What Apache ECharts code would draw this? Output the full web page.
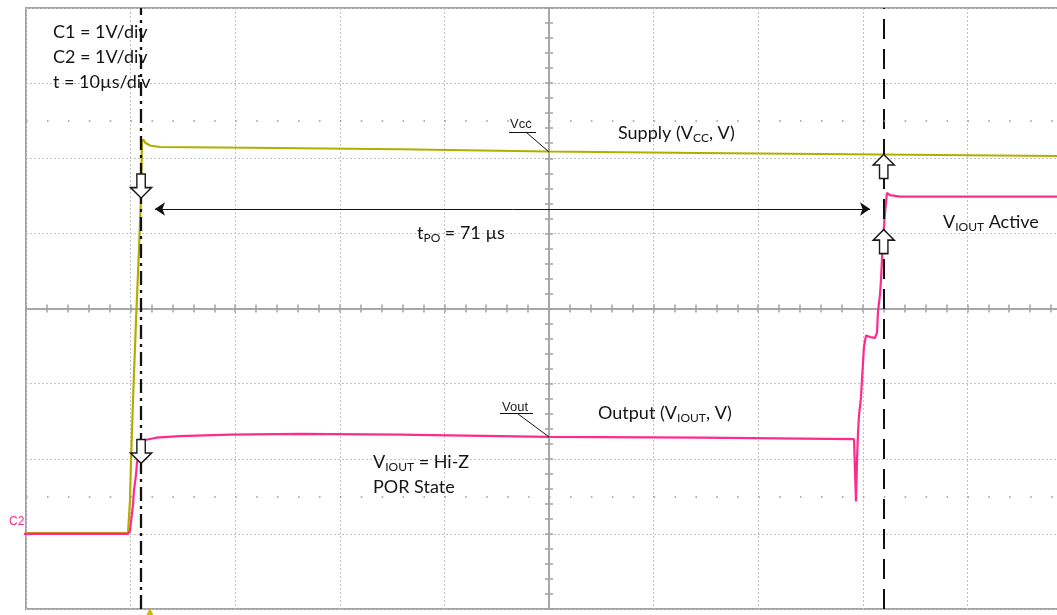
<!DOCTYPE html>
<html><head><meta charset="utf-8">
<script src="https://cdn.jsdelivr.net/npm/echarts@6/dist/echarts.min.js"></script>
<style>html,body{margin:0;padding:0;background:#fff}#c{width:1057px;height:615px}</style>
</head><body><div id="c"></div>
<script>
// Time in µs from the left edge of the screen (10 µs/div), voltage in V above channel ground (1 V/div)
const vccTime = [0, 9.75, 9.94, 10.04, 10.23, 10.52, 10.80, 10.99, 11.09, 11.19, 11.38, 11.85, 12.81, 21.4, 35.76, 50.0, 64.4, 81.6, 98.57];
const vccVolt = [0.01, 0.01, 0.44, 0.97, 1.78, 2.85, 3.78, 4.45, 5.22, 5.25, 5.21, 5.17, 5.15, 5.14, 5.12, 5.09, 5.07, 5.05, 5.03];

const voutTime = [-1.34, 9.75, 9.94, 10.04, 10.23, 10.33, 10.52, 10.61, 10.80, 11.09, 11.38, 12.43, 14.72, 19.50, 26.2, 35.76, 50.0, 64.4, 79.16, 79.25, 79.35, 79.45, 79.54, 79.64, 79.83, 79.92, 80.02, 80.11, 80.31, 80.69, 81.17, 81.36, 81.45, 81.64, 81.74, 81.93, 82.12, 82.31, 82.6, 83.56, 93.1, 98.57];
const voutVolt = [0.00, 0.00, 0.04, 0.16, 0.39, 0.59, 0.79, 0.95, 1.05, 1.21, 1.25, 1.28, 1.30, 1.32, 1.33, 1.32, 1.29, 1.28, 1.26, 0.85, 0.43, 0.99, 1.34, 1.58, 1.82, 2.05, 2.28, 2.49, 2.64, 2.62, 2.61, 2.68, 2.96, 3.18, 3.38, 3.91, 4.27, 4.54, 4.51, 4.49, 4.49, 4.49];

const porTime = 11.0;     // dash-dot cursor
const activeTime = 82.0;  // dashed cursor (tPO = 71 µs)
const triggerTime = 11.85;

const vccData = vccTime.map((t, i) => [t, vccVolt[i]]);
const voutData = voutTime.map((t, i) => [t, voutVolt[i]]);

const GRAY = '#a3a3a3';
const DOWN = 'path://M6,0 L14,0 L14,13 L20,13 L10,23 L0,13 L6,13 Z';
const UP = 'path://M10,0 L20,10 L14,10 L14,23 L6,23 L6,10 L0,10 Z';
const FONT = 'Lato';

function crossX(pos) {
  return { type: 'value', min: -50, max: 50, interval: 2, position: pos,
    axisLine: { show: true, onZero: true, onZeroAxisIndex: 1, lineStyle: { color: GRAY, width: 1.5 } },
    axisTick: { show: true, length: 4, lineStyle: { color: GRAY, width: 1.5 } },
    axisLabel: { show: false }, splitLine: { show: false } };
}
function crossY(pos) {
  return { type: 'value', min: -4, max: 4, interval: 0.2, position: pos,
    axisLine: { show: true, onZero: true, onZeroAxisIndex: 1, lineStyle: { color: GRAY, width: 1.5 } },
    axisTick: { show: true, length: 4, lineStyle: { color: GRAY, width: 1.5 } },
    axisLabel: { show: false }, splitLine: { show: false } };
}
function txt(x, y, text, rich) {
  const style = { text: text, x: 0, y: 0, fill: '#151515', fontFamily: FONT, fontSize: 18, verticalAlign: 'middle', align: 'left' };
  if (rich) style.rich = rich;
  return { type: 'text', x: x, y: y, z: 100, style: style };
}
const subRich = {
  a: { fontFamily: FONT, fontSize: 18, lineHeight: 22, fill: '#151515' },
  s: { fontFamily: FONT, fontSize: 12, lineHeight: 12, verticalAlign: 'bottom', fill: '#151515' }
};

const chart = echarts.init(document.getElementById('c'), null, { renderer: 'canvas' });
chart.setOption({
  animation: false,
  backgroundColor: '#fff',
  grid: { left: 26, right: -15, top: 8, bottom: 6, show: true, borderColor: GRAY, borderWidth: 2, outerBoundsMode: 'none' },
  xAxis: [
    { type: 'value', min: 0, max: 100, interval: 10,
      axisLine: { show: false }, axisTick: { show: false }, axisLabel: { show: false },
      splitLine: { show: true, lineStyle: { color: '#c2c2c2', width: 1, type: [2, 2] } } },
    crossX('bottom'), crossX('top')
  ],
  yAxis: [
    { type: 'value', min: -1, max: 7, interval: 1,
      axisLine: { show: false }, axisTick: { show: false }, axisLabel: { show: false },
      splitLine: { show: true, lineStyle: { color: '#c2c2c2', width: 1, type: [2, 2] } } },
    crossY('left'), crossY('right')
  ],
  series: [
    { name: 'Vcc', type: 'line', data: vccData, showSymbol: false, clip: false, z: 3,
      lineStyle: { color: '#b3ad00', width: 2.2 }, itemStyle: { color: '#b3ad00' } },
    { name: 'Vout', type: 'line', data: voutData, showSymbol: false, clip: false, z: 4,
      lineStyle: { color: '#ff2a8e', width: 2.2 }, itemStyle: { color: '#ff2a8e' } },
    { name: 'annot', type: 'line', data: [], z: 6, silent: true,
      markLine: {
        silent: true, symbol: 'none', label: { show: false }, animation: false,
        data: [
          { xAxis: porTime, lineStyle: { color: '#111', width: 2.3, type: [14, 5, 3, 5] } },
          { xAxis: activeTime, lineStyle: { color: '#111', width: 2, type: [20, 10] } },
          [ { coord: [0, 5.5], lineStyle: { color: '#9a9a9a', width: 1.6, type: [1.6, 19.32] } }, { coord: [100, 5.5] } ],
          [ { coord: [0, 0.5], lineStyle: { color: '#9a9a9a', width: 1.6, type: [1.6, 19.32] } }, { coord: [100, 0.5] } ],
          [ { coord: [12.33, 4.325], symbol: 'arrow', symbolSize: 10, lineStyle: { color: '#111', width: 1, type: 'solid' } }, { coord: [80.69, 4.325], symbol: 'arrow', symbolSize: 10 } ],
          [ { coord: [47.9, 5.336], lineStyle: { color: '#111', width: 1, type: 'solid' } }, { coord: [50.0, 5.083] } ],
          [ { coord: [46.18, 5.35], lineStyle: { color: '#111', width: 1, type: 'solid' } }, { coord: [48.76, 5.35] } ],
          [ { coord: [47.04, 1.596], lineStyle: { color: '#111', width: 1, type: 'solid' } }, { coord: [50.0, 1.290] } ],
          [ { coord: [45.32, 1.609], lineStyle: { color: '#111', width: 1, type: 'solid' } }, { coord: [48.47, 1.609] } ]
        ]
      },
      markPoint: {
        silent: true, label: { show: false }, animation: false,
        itemStyle: { color: '#fff', borderColor: '#1a1a1a', borderWidth: 1.5 },
        data: [
          { coord: [porTime, 4.63], symbol: DOWN, symbolSize: [21, 24] },
          { coord: [porTime, 1.097], symbol: DOWN, symbolSize: [21, 24] },
          { coord: [activeTime, 4.89], symbol: UP, symbolSize: [21, 24] },
          { coord: [activeTime, 3.89], symbol: UP, symbolSize: [21, 24] },
          { coord: [triggerTime, -1], symbol: 'triangle', symbolSize: [8, 8], symbolOffset: [0, 3],
            itemStyle: { color: '#c9bb00', borderWidth: 0 } }
        ]
      }
    }
  ],
  graphic: [
    txt(53, 32, 'C1 = 1V/div'),
    txt(53, 57, 'C2 = 1V/div'),
    txt(53, 82, 't = 10µs/div'),
    txt(618, 133, '{a|Supply (V}{s|CC}{a|, V)}', subRich),
    txt(417, 233, '{a|t}{s|PO}{a| = 71 µs}', subRich),
    txt(943, 222, '{a|V}{s|IOUT}{a| Active}', subRich),
    txt(598, 413, '{a|Output (V}{s|IOUT}{a|, V)}', subRich),
    txt(373, 462, '{a|V}{s|IOUT}{a| = Hi-Z}', subRich),
    txt(373, 487, 'POR State'),
    { type: 'text', x: 510, y: 124, z: 100, style: { text: 'Vcc', fontFamily: 'Liberation Sans', fontSize: 13, fill: '#222', verticalAlign: 'middle' } },
    { type: 'text', x: 502, y: 407, z: 100, style: { text: 'Vout', fontFamily: 'Liberation Sans', fontSize: 13, fill: '#222', verticalAlign: 'middle' } },
    { type: 'text', x: 9, y: 522, z: 100, style: { text: 'C2', fontFamily: 'Liberation Sans', fontSize: 12, fill: '#ff2a8e', verticalAlign: 'middle' } }
  ]
});
</script>
</body></html>
